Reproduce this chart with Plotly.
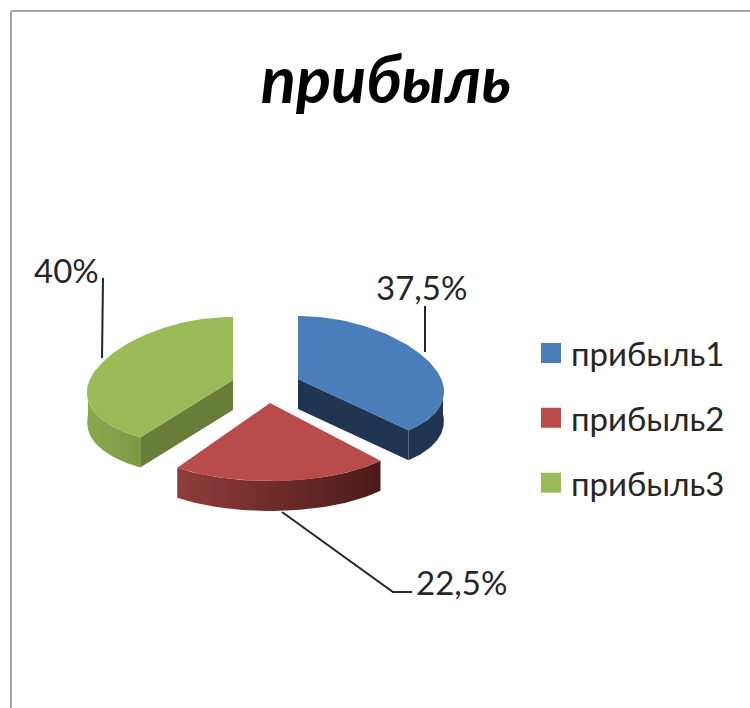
import numpy as np
import plotly.graph_objects as go

# --- data ---
title_text = "прибыль"
categories = ["прибыль1", "прибыль2", "прибыль3"]
values = [37.5, 22.5, 40.0]
data_labels = ["37,5%", "22,5%", "40%"]

# --- style ---
top_colors = ["#4a7ebb", "#b94c4a", "#9bbb59"]
cut_colors = ["#1f3552", None, "#677d38"]
side_scales = [
    [[0, "#1f3552"], [1, "#1f3552"]],
    [[0, "#8f3d3a"], [1, "#4a1a18"]],
    [[0, "#8aa84f"], [1, "#7c9a45"]],
]
FONT = "Lato, Carlito, 'Noto Sans', sans-serif"
TXT = "#262626"

# exploded-slice anchors and pseudo-3D projection parameters (pixels)
centers = [(298, 379), (270, 403), (233, 380)]
front_ry = [69, 78, 69]
RX, BACK_RY, DEPTH, PERSP, SIDE_DROP = 145, 63, 30, 0.11, 5


def project(theta, cx, cy, fry, drop=0):
    c, s = np.cos(theta), np.sin(theta)
    ry = np.where(c > 0, BACK_RY, fry)
    x = cx + RX * s * (1 - PERSP * c)
    y = cy - ry * c + SIDE_DROP * s ** 2 + drop
    return x, y


fig = go.Figure()
edges = np.radians(np.concatenate([[0], np.cumsum(values)]) * 3.6)

# visible vertical faces first
for i, v in enumerate(values):
    a0, a1 = edges[i], edges[i + 1]
    cx, cy = centers[i]
    lo, hi = max(a0, np.pi / 2), min(a1, 3 * np.pi / 2)
    if cut_colors[i]:  # radial cut face
        a = a1 if i == 0 else a0
        ex, ey = project(np.array(a), cx, cy, front_ry[i])
        fig.add_trace(go.Scatter(
            x=[cx, float(ex), float(ex), cx, cx],
            y=[cy, float(ey), float(ey) + DEPTH, cy + DEPTH, cy],
            mode="lines", fill="toself", fillcolor=cut_colors[i],
            line=dict(width=0), showlegend=False, hoverinfo="skip"))
    t = np.linspace(lo, hi, 60)
    x1, y1 = project(t, cx, cy, front_ry[i])
    x2, y2 = project(t[::-1], cx, cy, front_ry[i], DEPTH)
    fig.add_trace(go.Scatter(
        x=np.r_[x1, x2, x1[0]], y=np.r_[y1, y2, y1[0]],
        mode="lines", fill="toself", line=dict(width=0),
        fillgradient=dict(type="horizontal", colorscale=side_scales[i]),
        showlegend=False, hoverinfo="skip"))

# top faces
for i, v in enumerate(values):
    cx, cy = centers[i]
    t = np.linspace(edges[i], edges[i + 1], 90)
    x, y = project(t, cx, cy, front_ry[i])
    fig.add_trace(go.Scatter(
        x=np.r_[cx, x, cx], y=np.r_[cy, y, cy],
        mode="lines", fill="toself", fillcolor=top_colors[i],
        line=dict(width=0), name=categories[i], showlegend=False,
        hoverinfo="name"))

# leader lines
leaders = [([425, 425], [306, 352]), ([282, 393, 412], [512, 592, 592]), ([103, 102], [278, 358])]
for lx, ly in leaders:
    fig.add_trace(go.Scatter(x=lx, y=ly, mode="lines", line=dict(color="#262626", width=2),
                             showlegend=False, hoverinfo="skip"))

# legend entries
for i, c in enumerate(categories):
    fig.add_trace(go.Scatter(
        x=[None], y=[None], mode="markers", name=c, legendgroup=c,
        marker=dict(symbol="square", size=16, color=top_colors[i],
                    line=dict(color=top_colors[i], width=4))))

label_pos = [(421, 287), (461, 582), (66, 270)]
annotations = [
    dict(x=px, y=py, text=lab, showarrow=False, xanchor="center", yanchor="middle",
         font=dict(family=FONT, size=33, color=TXT))
    for (px, py), lab in zip(label_pos, data_labels)
]

fig.update_layout(
    width=750, height=708, margin=dict(l=0, r=0, t=0, b=0),
    paper_bgcolor="white", plot_bgcolor="white",
    xaxis=dict(range=[0, 750], visible=False, fixedrange=True),
    yaxis=dict(range=[708, 0], visible=False, fixedrange=True),
    title=dict(text=f"<b><i>{title_text}</i></b>", x=386 / 750, y=1 - 80 / 708,
               xanchor="center", yanchor="middle",
               font=dict(family=FONT, size=65, color="#000000")),
    legend=dict(x=531 / 750, y=1 - 325 / 708, xanchor="left", yanchor="top",
                tracegroupgap=19, itemsizing="trace", itemwidth=30,
                font=dict(family=FONT, size=33, color=TXT), bgcolor="rgba(0,0,0,0)"),
    annotations=annotations,
    shapes=[
        dict(type="line", xref="x", yref="y", x0=11, x1=11, y0=11, y1=708,
             line=dict(color="#a6a6a6", width=2)),
        dict(type="line", xref="x", yref="y", x0=11, x1=750, y0=11, y1=11,
             line=dict(color="#a6a6a6", width=2)),
    ],
)
fig.write_html("out.html", config={"displayModeBar": False},
               post_script="document.body.style.margin='0';document.body.style.overflow='hidden';")
